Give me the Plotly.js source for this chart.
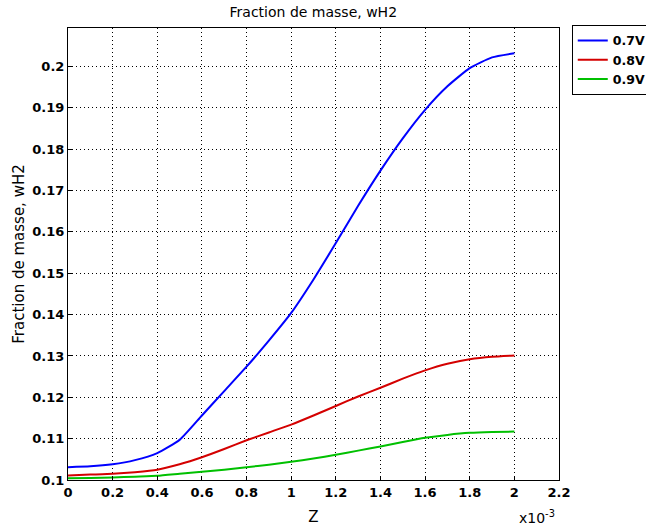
<!DOCTYPE html>
<html>
<head>
<meta charset="utf-8">
<script src="https://cdn.plot.ly/plotly-3.0.1.min.js"></script>
<style>html,body{margin:0;padding:0;background:#fff;}#chart{width:646px;height:529px;}</style>
</head>
<body>
<div id="chart"></div>
<script>
// z coordinate (units of 1e-3)
var z = [0, 0.1, 0.2, 0.3, 0.4, 0.5, 0.6, 0.7, 0.8, 0.9, 1.0, 1.1, 1.2, 1.3, 1.4, 1.5, 1.6, 1.7, 1.8, 1.9, 2.0];
var seriesNames = ["0.7V", "0.8V", "0.9V"];
var w07 = [0.1031, 0.1033, 0.1038, 0.1048, 0.1065, 0.1097, 0.1156, 0.1215, 0.1274, 0.1337, 0.1404, 0.1485, 0.1573, 0.1663, 0.1748, 0.1826, 0.1895, 0.1952, 0.1996, 0.2022, 0.2032];
var w08 = [0.1011, 0.1013, 0.1015, 0.1019, 0.1025, 0.1038, 0.1055, 0.1075, 0.1096, 0.1115, 0.1134, 0.1156, 0.1179, 0.1202, 0.1223, 0.1245, 0.1265, 0.1281, 0.1292, 0.1298, 0.1301];
var w09 = [0.1004, 0.1005, 0.1006, 0.1008, 0.1010, 0.1015, 0.1020, 0.1025, 0.1031, 0.1037, 0.1044, 0.1052, 0.1061, 0.1071, 0.1081, 0.1092, 0.1102, 0.1109, 0.1114, 0.1116, 0.1117];
var colors = ["#0000ff", "#d40000", "#00c000"];

var font = "DejaVu Sans, Verdana, sans-serif";
var traces = [w07, w08, w09].map(function (ys, i) {
  return {
    x: z, y: ys, name: seriesNames[i], type: "scatter", mode: "lines",
    line: {color: colors[i], width: 2, shape: "spline", smoothing: 0.5}
  };
});

var axisCommon = {
  showline: true, mirror: true, linecolor: "#000", linewidth: 1,
  showgrid: true, gridcolor: "#000", griddash: "1px,3px", gridwidth: 1,
  zeroline: false, ticks: "inside", ticklen: 4, tickcolor: "#000",
  tickfont: {family: font, size: 13, color: "#000", weight: "bold"}
};

var layout = {
  width: 646, height: 529,
  margin: {l: 68, r: 87, t: 28, b: 49, autoexpand: false},
  paper_bgcolor: "#fff", plot_bgcolor: "#fff",
  title: {text: "Fraction de masse, wH2", font: {family: font, size: 14, color: "#000"}, x: 0.485, xanchor: "center", y: 0.978, yanchor: "middle"},
  xaxis: Object.assign({}, axisCommon, {
    range: [0, 2.2], tick0: 0, dtick: 0.2,
    title: {text: "Z", font: {family: font, size: 15, color: "#000"}, standoff: 12}
  }),
  yaxis: Object.assign({}, axisCommon, {
    range: [0.1, 0.2093], tick0: 0.1, dtick: 0.01,
    title: {text: "Fraction de masse, wH2", font: {family: font, size: 15, color: "#000"}, standoff: 4}
  }),
  showlegend: true,
  legend: {
    x: 1.026, xanchor: "left", y: 1.007, yanchor: "top",
    bordercolor: "#000", borderwidth: 1, bgcolor: "#fff",
    font: {family: font, size: 12.5, color: "#000", weight: "bold"},
    tracegroupgap: 0, itemwidth: 30
  },
  annotations: [{
    text: "x10<sup>-3</sup>", xref: "paper", yref: "paper", x: 0.955, y: -0.106,
    xanchor: "center", yanchor: "bottom", showarrow: false,
    font: {family: font, size: 14, color: "#000"}
  }]
};

Plotly.newPlot("chart", traces, layout, {displayModeBar: false, staticPlot: true});
</script>
</body>
</html>
